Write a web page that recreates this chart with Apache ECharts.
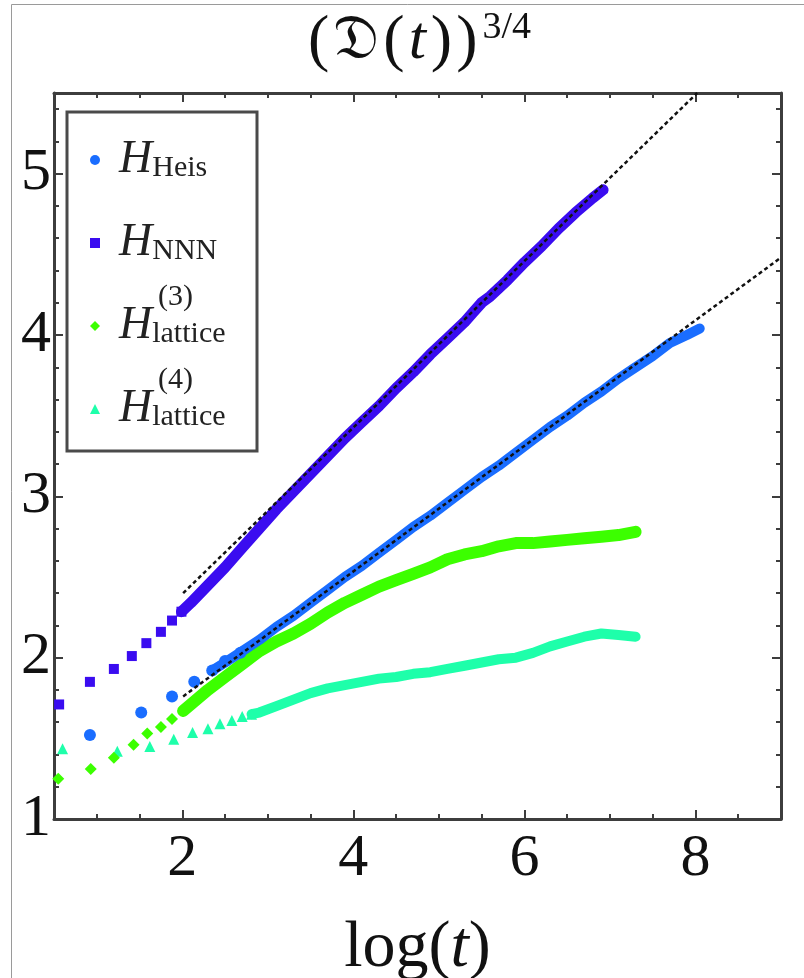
<!DOCTYPE html>
<html>
<head>
<meta charset="utf-8">
<script src="https://cdn.jsdelivr.net/npm/echarts@6/dist/echarts.min.js"></script>
<style>
html,body{margin:0;padding:0;background:#fff;}
#c{width:804px;height:978px;}
</style>
</head>
<body>
<div id="c"></div>
<script>
// ---- tick labels ----
const xTickLabels = [2, 4, 6, 8];
const yTickLabels = [1, 2, 3, 4, 5];

// ---- series names ----
const names = ['H_Heis', 'H_NNN', 'H_lattice3', 'H_lattice4'];

// ---- H_Heis ----
const heisSparseX = [0.92, 1.52, 1.88, 2.14, 2.35, 2.50, 2.68];
const heisSparseY = [1.52, 1.66, 1.76, 1.85, 1.92, 1.98, 2.03];
const heisBandX = [2.35, 2.5, 2.7, 2.9, 3.1, 3.3, 3.5, 3.7, 3.9, 4.1, 4.3, 4.5, 4.7, 4.9, 5.1, 5.3, 5.5, 5.7, 5.9, 6.1, 6.3, 6.5, 6.7, 6.9, 7.1, 7.3, 7.5, 7.7, 7.9, 8.05];
const heisBandY = [1.92, 1.97, 2.04, 2.11, 2.19, 2.26, 2.34, 2.42, 2.50, 2.57, 2.65, 2.73, 2.81, 2.88, 2.96, 3.04, 3.12, 3.19, 3.27, 3.35, 3.43, 3.50, 3.58, 3.65, 3.73, 3.80, 3.87, 3.95, 4.00, 4.04];

// ---- H_NNN ----
const nnnSparseX = [0.56, 0.92, 1.20, 1.41, 1.58, 1.75, 1.88, 1.99];
const nnnSparseY = [1.71, 1.85, 1.93, 2.01, 2.09, 2.16, 2.23, 2.285];
const nnnBandX = [1.99, 2.1, 2.3, 2.5, 2.7, 2.9, 3.1, 3.3, 3.5, 3.7, 3.9, 4.1, 4.3, 4.5, 4.7, 4.9, 5.1, 5.3, 5.4, 5.5, 5.6, 5.8, 6.0, 6.2, 6.4, 6.6, 6.8, 6.92];
const nnnBandY = [2.285, 2.34, 2.45, 2.56, 2.68, 2.80, 2.92, 3.03, 3.14, 3.25, 3.36, 3.46, 3.56, 3.67, 3.77, 3.88, 3.98, 4.08, 4.14, 4.20, 4.24, 4.34, 4.45, 4.55, 4.66, 4.76, 4.85, 4.90];

// ---- H_lattice^(3) ----
const lat3SparseX = [0.55, 0.93, 1.20, 1.43, 1.59, 1.75, 1.88, 2.01];
const lat3SparseY = [1.25, 1.31, 1.38, 1.46, 1.53, 1.57, 1.62, 1.67];
const lat3BandX = [2.01, 2.1, 2.3, 2.5, 2.7, 2.9, 3.1, 3.3, 3.5, 3.7, 3.9, 4.1, 4.3, 4.5, 4.7, 4.9, 5.1, 5.3, 5.5, 5.7, 5.9, 6.1, 6.3, 6.5, 6.7, 6.9, 7.1, 7.3];
const lat3BandY = [1.67, 1.71, 1.80, 1.88, 1.96, 2.04, 2.10, 2.15, 2.21, 2.28, 2.34, 2.39, 2.44, 2.48, 2.52, 2.56, 2.61, 2.64, 2.66, 2.69, 2.71, 2.71, 2.72, 2.73, 2.74, 2.75, 2.76, 2.78];

// ---- H_lattice^(4) ----
const lat4SparseX = [0.60, 1.24, 1.62, 1.90, 2.12, 2.30, 2.44, 2.58, 2.70, 2.81];
const lat4SparseY = [1.435, 1.42, 1.45, 1.495, 1.536, 1.56, 1.59, 1.61, 1.635, 1.65];
const lat4BandX = [2.81, 2.9, 3.1, 3.3, 3.5, 3.7, 3.9, 4.1, 4.3, 4.5, 4.7, 4.9, 5.1, 5.3, 5.5, 5.7, 5.9, 6.1, 6.3, 6.5, 6.7, 6.9, 7.1, 7.3];
const lat4BandY = [1.65, 1.66, 1.70, 1.74, 1.78, 1.81, 1.83, 1.85, 1.87, 1.88, 1.90, 1.91, 1.93, 1.95, 1.97, 1.99, 2.00, 2.03, 2.07, 2.10, 2.13, 2.15, 2.14, 2.13];

// ---- dashed fits ----
const fitNNNX = [2.01, 8.02];
const fitNNNY = [2.40, 5.50];
const fitHeisX = [2.01, 9.0];
const fitHeisY = [1.76, 4.48];

const zip = (xs, ys) => xs.map((x, i) => [x, ys[i]]);

const C = {
  heis: '#1a6dff',
  nnn: '#3a0cf0',
  lat3: '#3cff00',
  lat4: '#1effaa'
};

const SERIF = '"Liberation Serif","DejaVu Serif",serif';
const FRAME = '#3d3d3d';

const chart = echarts.init(document.getElementById('c'), null, {renderer: 'canvas'});

const grid = {left: 54, right: 23, top: 93, bottom: 159, containLabel: false, outerBoundsMode: 'none'};

function xAx(pos, major) {
  return {
    type: 'value', position: pos, min: 0.5, max: 9, interval: 0.5,
    axisLine: {show: major, onZero: false, lineStyle: {color: FRAME, width: 3}},
    axisTick: major
      ? {show: true, inside: true, length: 9, customValues: xTickLabels, lineStyle: {color: FRAME, width: 2}}
      : {show: true, inside: true, length: 5, lineStyle: {color: FRAME, width: 2}},
    axisLabel: (major && pos === 'bottom')
      ? {show: true, customValues: xTickLabels, margin: 10, fontFamily: SERIF, fontSize: 60, color: '#111',
         formatter: v => (xTickLabels.indexOf(v) >= 0 ? String(v) : '')}
      : {show: false},
    splitLine: {show: false}
  };
}
function yAx(pos, major) {
  return {
    type: 'value', position: pos, min: 1, max: 5.5, interval: major ? 1 : 0.2,
    axisLine: {show: major, onZero: false, lineStyle: {color: FRAME, width: 3}},
    axisTick: {show: true, inside: true, length: major ? 9 : 5, lineStyle: {color: FRAME, width: 2}},
    axisLabel: (major && pos === 'left')
      ? {show: true, margin: 3, fontFamily: SERIF, fontSize: 60, color: '#111',
         formatter: v => (yTickLabels.indexOf(v) >= 0 ? String(v) : '')}
      : {show: false},
    splitLine: {show: false}
  };
}

const xAxes = [xAx('bottom', true), xAx('bottom', false), xAx('top', true), xAx('top', false)];
xAxes[0].name = '{n|log(}{t|t}{n|)}';
xAxes[0].nameLocation = 'middle';
xAxes[0].nameGap = 97;
xAxes[0].nameTextStyle = {
  rich: {
    n: {fontFamily: SERIF, fontSize: 66, color: '#111'},
    t: {fontFamily: SERIF, fontSize: 66, fontStyle: 'italic', color: '#111'}
  }
};
const yAxes = [yAx('left', true), yAx('left', false), yAx('right', true), yAx('right', false)];

function band(name, xs, ys, color, w, z) {
  return {
    name: name, type: 'line', data: zip(xs, ys), showSymbol: false, symbol: 'none',
    lineStyle: {color: color, width: w, cap: 'round', join: 'round'},
    itemStyle: {color: color}, z: z, silent: true, animation: false
  };
}
function pts(name, xs, ys, color, symbol, size, z) {
  return {
    name: name, type: 'scatter', data: zip(xs, ys), symbol: symbol, symbolSize: size,
    itemStyle: {color: color, opacity: 1}, z: z, animation: false
  };
}
function fit(xs, ys) {
  return {
    type: 'line', data: zip(xs, ys), showSymbol: false, symbol: 'none',
    lineStyle: {color: '#111111', width: 2.5, type: [4, 3]}, z: 10, animation: false, silent: true
  };
}

const series = [
  band(names[3], lat4BandX, lat4BandY, C.lat4, 10, 2),
  pts(names[3], lat4SparseX, lat4SparseY, C.lat4, 'triangle', 11, 2),
  band(names[2], lat3BandX, lat3BandY, C.lat3, 12, 3),
  pts(names[2], lat3SparseX, lat3SparseY, C.lat3, 'diamond', 12, 3),
  band(names[0], heisBandX, heisBandY, C.heis, 10, 4),
  pts(names[0], heisSparseX, heisSparseY, C.heis, 'circle', 12, 4),
  band(names[1], nnnBandX, nnnBandY, C.nnn, 11, 5),
  pts(names[1], nnnSparseX, nnnSparseY, C.nnn, 'rect', 10, 5),
  fit(fitNNNX, fitNNNY),
  fit(fitHeisX, fitHeisY)
];

const legendText = {
  'H_Heis': '{h|H}{s|Heis}',
  'H_NNN': '{h|H}{s|NNN}',
  'H_lattice3': '{h|H}{s|lattice}',
  'H_lattice4': '{h|H}{s|lattice}'
};

const option = {
  backgroundColor: '#ffffff',
  animation: false,
  title: {
    text: '{p|(}{d|𝔇}{p|(}{t|t}{p|)}{p|)}{s|3/4}',
    left: 301, top: 4,
    textStyle: {
      fontWeight: 'normal',
      rich: {
        p: {fontFamily: SERIF, fontWeight: 'normal', fontSize: 64, color: '#111', lineHeight: 66, padding: [0, 2, 0, 2]},
        d: {fontFamily: '"DejaVu Serif","DejaVu Sans",serif', fontWeight: 'normal', fontSize: 62, color: '#111', lineHeight: 66, padding: [0, 2, 0, 2]},
        t: {fontFamily: SERIF, fontWeight: 'normal', fontSize: 62, fontStyle: 'italic', color: '#111', lineHeight: 66, padding: [0, 3, 0, 2]},
        s: {fontFamily: SERIF, fontWeight: 'normal', fontSize: 38, color: '#111', verticalAlign: 'top', lineHeight: 66, padding: [0, 0, 0, 3]}
      }
    }
  },
  legend: {
    orient: 'vertical', left: 90, top: 137, padding: 0, itemGap: 37,
    itemWidth: 10, itemHeight: 10,
    data: [
      {name: names[0], icon: 'circle', itemStyle: {color: C.heis}},
      {name: names[1], icon: 'rect', itemStyle: {color: C.nnn}},
      {name: names[2], icon: 'diamond', itemStyle: {color: C.lat3}},
      {name: names[3], icon: 'triangle', itemStyle: {color: C.lat4}}
    ],
    formatter: n => legendText[n],
    textStyle: {
      rich: {
        h: {fontFamily: SERIF, fontStyle: 'italic', fontSize: 46, color: '#222', lineHeight: 46, padding: [0, 0, 0, 14]},
        s: {fontFamily: SERIF, fontSize: 30, color: '#222', lineHeight: 26, verticalAlign: 'bottom'}
      }
    },
    selectedMode: false
  },
  grid: grid,
  xAxis: xAxes,
  yAxis: yAxes,
  series: series,
  graphic: [
    {type: 'polyline', shape: {points: [[11.5, 978], [11.5, 4.5], [804, 4.5]]}, style: {stroke: '#9a9a9a', lineWidth: 1, fill: null}, silent: true},
    {type: 'rect', shape: {x: 67, y: 112, width: 190, height: 339}, style: {fill: '#ffffff', stroke: '#4a4a4a', lineWidth: 3}, z: 50, silent: true},
    {type: 'text', left: 158, top: 282, style: {text: '(3)', font: '30px ' + SERIF, fill: '#222'}, z: 200, silent: true},
    {type: 'text', left: 158, top: 365, style: {text: '(4)', font: '30px ' + SERIF, fill: '#222'}, z: 200, silent: true}
  ]
};
option.legend.z = 100;
chart.setOption(option);
</script>
</body>
</html>
